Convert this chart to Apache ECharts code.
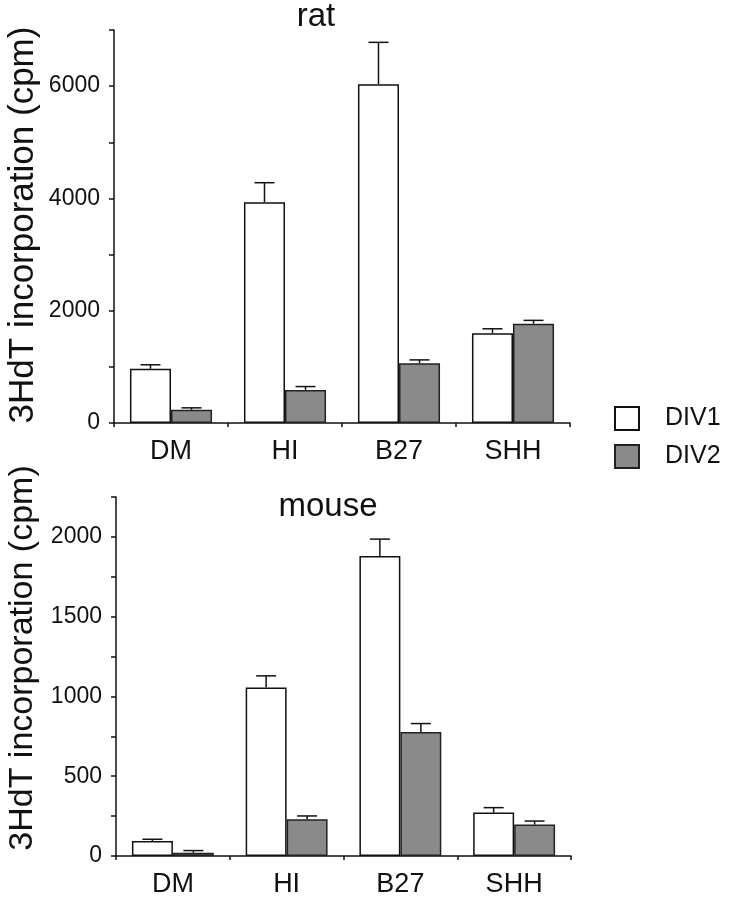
<!DOCTYPE html>
<html>
<head>
<meta charset="utf-8">
<script src="https://cdn.jsdelivr.net/npm/echarts@6/dist/echarts.min.js"></script>
<style>
  html, body { margin: 0; padding: 0; background: #fff; }
  #chart { width: 731px; height: 900px; }
</style>
</head>
<body>
<div id="chart"></div>
<script>
const categories = ['DM', 'HI', 'B27', 'SHH'];
const seriesNames = ['DIV1', 'DIV2'];

// rat panel (cpm)
const ratDIV1 = [965, 3930, 6035, 1600];
const ratDIV1Err = [72, 350, 745, 78];
const ratDIV2 = [235, 590, 1065, 1770];
const ratDIV2Err = [35, 59, 59, 58];

// mouse panel (cpm)
const mouseDIV1 = [94, 1056, 1881, 272];
const mouseDIV1Err = [11, 73, 105, 31];
const mouseDIV2 = [21, 230, 777, 197];
const mouseDIV2Err = [13, 21, 53, 22];

const ratTicks = { min: 0, max: 7000, interval: 1000, labelStep: 2000 };
const mouseTicks = { min: 0, max: 2250, interval: 250, labelStep: 500 };

const FONT = "'Liberation Sans', Arial, Helvetica, sans-serif";
const BAR_FRAC = 0.36;

const chart = echarts.init(document.getElementById('chart'), null, { renderer: 'canvas' });

function xAxisCfg(gridIndex) {
  return {
    type: 'category', gridIndex, data: categories,
    axisLine: { lineStyle: { color: '#111', width: 1.5 } },
    axisTick: { show: true, alignWithLabel: false, length: 4, lineStyle: { color: '#111', width: 1.5 } },
    axisLabel: { color: '#111', fontSize: 27, fontFamily: FONT, margin: 15 },
    splitLine: { show: false }
  };
}
function yAxisCfg(gridIndex, t) {
  return {
    type: 'value', gridIndex, min: t.min, max: t.max, interval: t.interval,
    axisLine: { show: true, lineStyle: { color: '#111', width: 1.5 } },
    axisTick: { show: true, length: 5, lineStyle: { color: '#111', width: 1.5 } },
    axisLabel: {
      color: '#111', fontSize: 23, fontFamily: FONT, margin: 14,
      formatter: v => (v % t.labelStep === 0 ? String(v) : '')
    },
    splitLine: { show: false }
  };
}

const barStyles = [
  { color: '#ffffff', borderColor: '#111', borderWidth: 1.5 },
  { color: '#8a8a8a', borderColor: '#222', borderWidth: 1.5 }
];

function barSeries(name, idx, gridIdx, values) {
  return {
    name, type: 'bar', xAxisIndex: gridIdx, yAxisIndex: gridIdx,
    data: values, barWidth: (BAR_FRAC * 100) + '%', barGap: '0%',
    itemStyle: barStyles[idx], z: 2, silent: true
  };
}

function errSeries(idx, gridIdx, values, errs) {
  return {
    name: 'err' + idx + '_' + gridIdx, type: 'custom', xAxisIndex: gridIdx, yAxisIndex: gridIdx,
    data: values.map((v, i) => [i, v, errs[i]]),
    encode: { x: 0, y: 1 }, z: 5, silent: true,
    renderItem: function (params, api) {
      const i = api.value(0), v = api.value(1), e = api.value(2);
      const base = api.coord([i, v]);
      const top = api.coord([i, v + e]);
      const bw = api.size([1, 0])[0] * BAR_FRAC;
      const x = base[0] + (idx === 0 ? -bw / 2 : bw / 2);
      const cap = 10;
      const style = { stroke: '#111', lineWidth: 1.5 };
      return {
        type: 'group',
        children: [
          { type: 'line', shape: { x1: x, y1: base[1], x2: x, y2: top[1] }, style },
          { type: 'line', shape: { x1: x - cap, y1: top[1], x2: x + cap, y2: top[1] }, style }
        ]
      };
    }
  };
}

const option = {
  backgroundColor: '#ffffff',
  animation: false,
  grid: [
    { left: 114, right: 161, top: 30, bottom: 477 },
    { left: 116, right: 160, top: 497, bottom: 44 }
  ],
  xAxis: [xAxisCfg(0), xAxisCfg(1)],
  yAxis: [yAxisCfg(0, ratTicks), yAxisCfg(1, mouseTicks)],
  legend: {
    data: seriesNames, orient: 'vertical', left: 609, top: 401,
    icon: 'rect',
    itemWidth: 24, itemHeight: 23, itemGap: 13,
    textStyle: { color: '#111', fontSize: 25, fontFamily: FONT, padding: [0, 0, 0, 21] },
    selectedMode: false
  },
  graphic: [
    { type: 'text', x: 316, y: 16.5, style: { text: 'rat', font: '33px ' + FONT, fill: '#111', align: 'center', verticalAlign: 'middle' } },
    { type: 'text', x: 328, y: 506.5, style: { text: 'mouse', font: '33px ' + FONT, fill: '#111', align: 'center', verticalAlign: 'middle' } },
    { type: 'text', x: 23, y: 225, rotation: Math.PI / 2, style: { text: '3HdT incorporation (cpm)', font: '35px ' + FONT, fill: '#111', align: 'center', verticalAlign: 'middle' } },
    { type: 'text', x: 23, y: 658, rotation: Math.PI / 2, style: { text: '3HdT incorporation (cpm)', font: '34px ' + FONT, fill: '#111', align: 'center', verticalAlign: 'middle' } }
  ],
  series: [
    barSeries('DIV1', 0, 0, ratDIV1),
    barSeries('DIV2', 1, 0, ratDIV2),
    barSeries('DIV1', 0, 1, mouseDIV1),
    barSeries('DIV2', 1, 1, mouseDIV2),
    errSeries(0, 0, ratDIV1, ratDIV1Err),
    errSeries(1, 0, ratDIV2, ratDIV2Err),
    errSeries(0, 1, mouseDIV1, mouseDIV1Err),
    errSeries(1, 1, mouseDIV2, mouseDIV2Err)
  ]
};
chart.setOption(option);
</script>
</body>
</html>
